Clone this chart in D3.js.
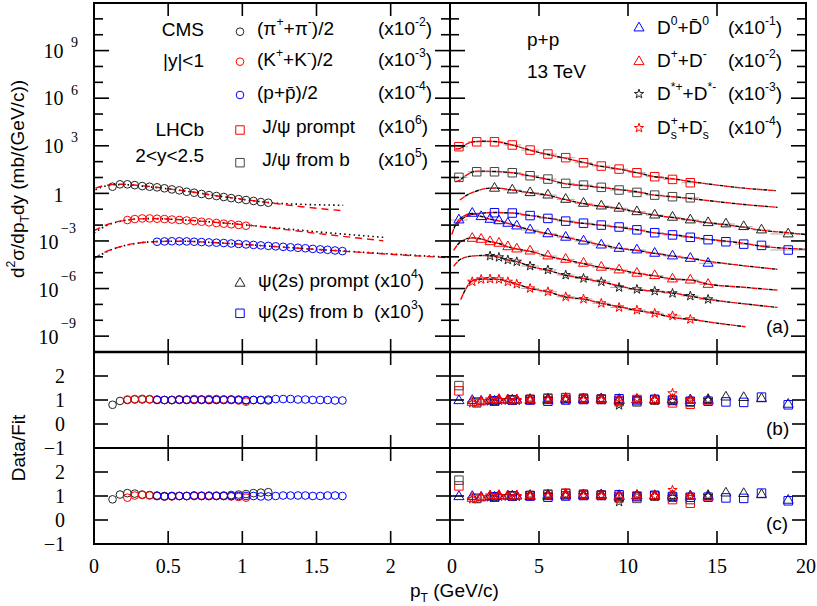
<!DOCTYPE html>
<html><head><meta charset="utf-8">
<script src="https://cdn.jsdelivr.net/npm/d3@7"></script>
<style>body{margin:0;background:#fff} text{white-space:pre}</style>
</head><body>
<script>
// ================= DATA (y values given as log10 of the scaled cross section) =================
// ---- Left panel (CMS, |y|<1), pT in GeV/c ----
const pionPt   = [0.125,0.175,0.225,0.275,0.325,0.375,0.425,0.475,0.525,0.575,0.625,0.675,0.725,0.775,0.825,0.875,0.925,0.975,1.025,1.075,1.125,1.175];
const pionLogY = [0.42,0.57,0.57,0.52,0.46,0.42,0.38,0.32,0.25,0.19,0.10,0.04,-0.04,-0.11,-0.17,-0.23,-0.30,-0.36,-0.42,-0.48,-0.55,-0.59];
const pionRatioB = [0.80,0.96,1.00,1.02,1.02,1.02,1.01,1.00,1.00,1.00,1.01,1.02,1.00,1.00,1.01,1.02,1.00,1.00,0.98,1.00,1.00,0.98];
const pionRatioC = [0.86,1.06,1.12,1.10,1.06,1.04,1.02,1.00,1.00,1.00,1.00,1.02,1.00,1.00,1.00,1.02,1.04,1.06,1.08,1.12,1.14,1.16];

const kaonPt   = [0.225,0.275,0.325,0.375,0.425,0.475,0.525,0.575,0.625,0.675,0.725,0.775,0.825,0.875,0.925,0.975,1.025];
const kaonLogY = [-1.68,-1.62,-1.58,-1.58,-1.60,-1.62,-1.65,-1.68,-1.71,-1.75,-1.79,-1.83,-1.87,-1.91,-1.95,-1.99,-2.04];
const kaonRatioB = [1.02,1.04,1.05,1.04,1.02,1.00,1.00,1.02,1.02,1.04,1.02,1.04,1.04,1.02,1.02,0.98,0.93];
const kaonRatioC = [0.93,1.02,1.04,1.02,1.00,0.98,0.98,1.00,1.00,1.02,1.02,1.02,1.02,1.00,0.98,0.96,0.93];

const protonPt   = [0.425,0.475,0.525,0.575,0.625,0.675,0.725,0.775,0.825,0.875,0.925,0.975,1.025,1.075,1.125,1.175,1.225,1.275,1.325,1.375,1.425,1.475,1.525,1.575,1.625,1.675];
const protonLogY = [-3.05,-3.03,-3.02,-3.02,-3.03,-3.05,-3.07,-3.09,-3.11,-3.13,-3.16,-3.19,-3.22,-3.25,-3.28,-3.31,-3.34,-3.37,-3.40,-3.43,-3.46,-3.50,-3.53,-3.56,-3.60,-3.64];
const protonRatioB = [1.00,1.00,1.00,1.02,1.00,1.00,1.02,1.00,1.00,1.00,1.02,1.02,1.00,1.00,1.00,1.02,1.04,1.04,1.04,1.02,1.02,1.00,1.00,1.00,0.98,0.98];
const protonRatioC = [1.00,0.98,1.00,1.00,1.00,1.00,1.00,1.00,1.00,1.00,1.00,1.00,1.00,1.00,0.98,0.98,1.00,1.02,1.02,1.02,1.02,1.00,1.00,1.02,1.02,1.00];

// fit curves, left panel: [pT, log10 y]
const fitPionRed    = [[0.01,0.33],[0.05,0.45],[0.1,0.53],[0.15,0.57],[0.2,0.57],[0.3,0.50],[0.4,0.41],[0.5,0.29],[0.6,0.17],[0.7,0.04],[0.8,-0.12],[0.9,-0.24],[1.0,-0.37],[1.1,-0.49],[1.2,-0.61],[1.4,-0.84],[1.68,-1.10]];
const fitPionBlack  = [[0.01,0.22],[0.05,0.40],[0.1,0.50],[0.15,0.55],[0.2,0.55],[0.3,0.48],[0.4,0.39],[0.5,0.28],[0.6,0.16],[0.7,0.03],[0.8,-0.12],[0.9,-0.25],[1.0,-0.38],[1.1,-0.50],[1.2,-0.60],[1.4,-0.69],[1.68,-0.75]];
const fitKaonRed    = [[0.0,-2.35],[0.05,-2.12],[0.1,-1.93],[0.15,-1.80],[0.2,-1.71],[0.25,-1.65],[0.3,-1.61],[0.4,-1.59],[0.5,-1.62],[0.6,-1.67],[0.7,-1.74],[0.8,-1.81],[0.9,-1.89],[1.0,-1.97],[1.2,-2.18],[1.5,-2.52],[1.95,-2.99]];
const fitKaonBlack  = [[0.0,-2.50],[0.05,-2.20],[0.1,-1.97],[0.15,-1.82],[0.2,-1.72],[0.25,-1.65],[0.3,-1.61],[0.4,-1.59],[0.5,-1.62],[0.6,-1.67],[0.7,-1.74],[0.8,-1.81],[0.9,-1.89],[1.0,-1.97],[1.2,-2.15],[1.5,-2.42],[1.95,-2.77]];
const fitProtonRed  = [[0.0,-4.10],[0.05,-3.82],[0.1,-3.60],[0.2,-3.30],[0.3,-3.13],[0.4,-3.05],[0.5,-3.02],[0.6,-3.02],[0.8,-3.10],[1.0,-3.21],[1.2,-3.34],[1.4,-3.47],[1.675,-3.64],[2.0,-3.84],[2.4,-4.06]];
const fitProtonBlack= [[0.0,-4.16],[0.05,-3.86],[0.1,-3.62],[0.2,-3.31],[0.3,-3.13],[0.4,-3.05],[0.5,-3.02],[0.6,-3.02],[0.8,-3.10],[1.0,-3.21],[1.2,-3.34],[1.4,-3.47],[1.675,-3.63],[2.0,-3.82],[2.4,-4.03]];

// ---- Right panel (LHCb, 2<y<2.5 and D mesons), pT in GeV/c ----
const jpsiPt      = [0.5,1.5,2.5,3.5,4.5,5.5,6.5,7.5,8.5,9.5,10.5,11.5,12.5,13.5];
const jpsiHalfBin = [0.5,0.5,0.5,0.5,0.5,0.5,0.5,0.5,0.5,0.5,0.5,0.5,0.5,0.5];
const jpsiPromptLogY = [2.94,3.25,3.25,3.05,2.73,2.48,2.25,1.93,1.72,1.53,1.30,1.05,0.88,0.67];
const jpsiFromBLogY  = [1.01,1.36,1.36,1.30,1.11,0.90,0.63,0.52,0.38,0.21,0.06,-0.11,-0.21,-0.28];
const jpsiPromptRatioB = [1.38,0.92,0.95,1.00,1.03,1.08,1.10,1.05,1.05,0.98,1.02,1.00,0.88,0.82];
const jpsiPromptRatioC = [1.42,0.90,0.95,1.00,1.02,1.08,1.12,1.05,1.05,0.98,1.00,1.00,0.85,0.70];
const jpsiFromBRatioB  = [1.60,0.88,0.95,1.00,1.02,1.05,1.08,1.08,1.03,0.93,0.92,1.00,1.00,0.90];
const jpsiFromBRatioC  = [1.66,0.90,0.95,1.00,1.02,1.05,1.10,1.08,1.03,0.92,0.90,1.00,0.95,0.85];

const psiPt      = [2.5,3.5,4.5,5.5,6.5,7.5,8.5,9.5,10.5,11.5,12.5,13.5,14.5,15.5,16.5,17.5,19];
const psiHalfBin = [0.5,0.5,0.5,0.5,0.5,0.5,0.5,0.5,0.5,0.5,0.5,0.5,0.5,0.5,0.5,0.5,1.0];
const psiPromptLogY = [0.32,0.21,0.04,-0.11,-0.38,-0.63,-0.80,-0.94,-1.16,-1.37,-1.51,-1.68,-1.85,-1.93,-2.10,-2.31,-2.56];
const psiFromBLogY  = [-1.22,-1.24,-1.40,-1.58,-1.75,-1.88,-2.00,-2.12,-2.30,-2.48,-2.62,-2.77,-2.92,-3.05,-3.20,-3.28,-3.57];
const psiPromptRatioB = [0.95,1.00,1.00,1.02,1.04,1.05,1.05,1.02,1.02,1.00,1.02,1.00,1.02,1.12,1.10,1.05,0.82];
const psiPromptRatioC = [0.95,1.00,1.00,1.02,1.04,1.05,1.05,1.02,1.02,1.00,1.02,1.00,1.02,1.12,1.10,1.05,0.82];
const psiFromBRatioB  = [0.97,1.00,1.00,0.95,1.00,1.02,1.02,1.05,0.97,1.03,0.98,0.95,0.95,0.92,0.90,1.12,0.80];
const psiFromBRatioC  = [0.97,1.00,1.00,0.95,1.00,1.02,1.02,1.05,0.97,1.03,0.98,0.95,0.95,0.92,0.90,1.12,0.80];

const d0Pt      = [0.5,1.25,1.75,2.25,2.75,3.25,3.75,4.5,5.5,6.5,7.5,8.5,9.5,10.5,11.5,12.5,13.5,14.5];
const d0HalfBin = [0.5,0.25,0.25,0.25,0.25,0.25,0.25,0.5,0.5,0.5,0.5,0.5,0.5,0.5,0.5,0.5,0.5,0.5];
const d0LogY    = [-1.68,-1.26,-1.47,-1.64,-1.73,-1.89,-2.06,-2.31,-2.55,-2.77,-3.01,-3.26,-3.47,-3.57,-3.78,-3.95,-4.10,-4.41];
const d0RatioB  = [0.97,0.98,0.95,0.98,1.00,1.00,1.00,0.97,0.97,1.00,1.00,1.03,0.98,1.00,1.00,1.00,0.98,0.97];
const d0RatioC  = [0.97,0.98,0.95,0.98,1.00,1.00,1.00,0.97,0.97,1.00,1.00,1.03,0.98,1.00,1.00,1.00,0.98,0.97];

const dpPt      = [1.25,1.75,2.25,2.75,3.25,3.75,4.5,5.5,6.5,7.5,8.5,9.5,10.5,11.5,12.5,13.5,14.5];
const dpHalfBin = [0.25,0.25,0.25,0.25,0.25,0.25,0.5,0.5,0.5,0.5,0.5,0.5,0.5,0.5,0.5,0.5,0.5];
const dpLogY    = [-2.84,-2.90,-3.05,-3.15,-3.37,-3.51,-3.64,-3.95,-4.16,-4.41,-4.66,-4.83,-5.04,-5.19,-5.40,-5.47,-5.74];
const dpRatioB  = [0.90,0.92,1.00,1.02,1.00,1.00,1.02,1.05,1.07,1.05,1.02,0.97,1.00,1.02,1.00,0.98,0.95];
const dpRatioC  = [0.90,0.92,1.00,1.02,1.00,1.00,1.02,1.05,1.07,1.05,1.02,0.97,1.00,1.02,1.00,0.98,0.95];

const dstPt      = [2.25,2.75,3.25,3.75,4.5,5.5,6.5,7.5,8.5,9.5,10.5,11.5,12.5,13.5,14.5];
const dstHalfBin = [0.25,0.25,0.25,0.25,0.5,0.5,0.5,0.5,0.5,0.5,0.5,0.5,0.5,0.5,0.5];
const dstLogY    = [-3.95,-4.03,-4.20,-4.31,-4.58,-4.83,-5.15,-5.36,-5.57,-5.93,-6.05,-6.16,-6.30,-6.47,-6.68];
const dstRatioB  = [0.95,0.98,1.00,0.97,1.05,1.05,1.02,1.02,1.02,0.78,1.05,1.00,0.95,1.02,1.00];
const dstRatioC  = [0.95,0.98,1.00,0.97,1.05,1.05,1.02,1.02,1.02,0.75,1.05,1.00,0.95,1.02,1.00];

const dsPt      = [1.25,1.75,2.25,2.75,3.25,3.75,4.5,5.5,6.5,7.5,8.5,9.5,10.5,11.5,12.5,13.5];
const dsHalfBin = [0.25,0.25,0.25,0.25,0.25,0.25,0.5,0.5,0.5,0.5,0.5,0.5,0.5,0.5,0.5,0.5];
const dsLogY    = [-5.57,-5.42,-5.40,-5.42,-5.57,-5.72,-5.99,-6.20,-6.52,-6.66,-6.93,-7.19,-7.36,-7.56,-7.72,-7.94];
const dsRatioB  = [0.87,0.95,1.02,1.00,0.98,1.00,1.00,1.00,1.05,1.00,1.00,0.90,1.05,1.00,1.28,1.00];
const dsRatioC  = [0.87,0.95,1.02,1.00,0.98,1.00,1.00,1.00,1.05,1.00,1.00,0.88,1.05,1.00,1.25,1.00];

// fit curves, right panel: [pT, log10 y]
const fitJpsiPrompt = [[0.3,2.80],[0.5,2.81],[1,3.15],[1.5,3.27],[2,3.29],[2.5,3.27],[3.5,3.05],[4.5,2.72],[5.5,2.45],[6.5,2.21],[7.5,1.95],[8.5,1.70],[9.5,1.53],[10.5,1.30],[11.5,1.05],[12.5,0.92],[13.5,0.75],[15,0.52],[16.5,0.33],[18.3,0.17]];
const fitJpsiFromB  = [[0.3,0.73],[0.5,0.81],[1,1.20],[1.5,1.40],[2,1.40],[2.5,1.38],[3.5,1.30],[4.5,1.10],[5.5,0.88],[6.5,0.60],[7.5,0.49],[8.5,0.37],[9.5,0.24],[10.5,0.10],[11.5,-0.11],[12.5,-0.21],[13.5,-0.33],[15,-0.52],[16.5,-0.70],[18.4,-0.88]];
const fitPsiPrompt  = [[0.55,-0.42],[1,-0.08],[1.5,0.15],[2,0.30],[2.5,0.34],[3.5,0.21],[4.5,0.04],[5.5,-0.12],[6.5,-0.40],[7.5,-0.65],[8.5,-0.82],[9.5,-0.95],[10.5,-1.17],[11.5,-1.37],[12.5,-1.52],[13.5,-1.68],[14.5,-1.86],[15.5,-1.98],[16.5,-2.14],[17.5,-2.33],[19,-2.48],[20,-2.60]];
const fitPsiFromB   = [[0.4,-1.95],[0.8,-1.52],[1.5,-1.28],[2.5,-1.21],[3.5,-1.24],[4.5,-1.40],[5.5,-1.56],[6.5,-1.75],[7.5,-1.89],[8.5,-2.01],[9.5,-2.14],[10.5,-2.29],[11.5,-2.49],[12.5,-2.61],[13.5,-2.75],[14.5,-2.90],[15.5,-3.01],[16.5,-3.15],[17.5,-3.33],[19,-3.47],[20,-3.52]];
const fitD0         = [[0.1,-2.60],[0.3,-2.00],[0.5,-1.67],[0.8,-1.42],[1.25,-1.27],[1.75,-1.45],[2.25,-1.63],[2.75,-1.73],[3.25,-1.89],[3.75,-2.06],[4.5,-2.30],[5.5,-2.54],[6.5,-2.77],[7.5,-3.01],[8.5,-3.25],[9.5,-3.46],[10.5,-3.60],[11.5,-3.78],[12.5,-3.95],[13.5,-4.10],[14.5,-4.28],[16.5,-4.56],[18.4,-4.79]];
const fitDp         = [[0.2,-3.60],[0.6,-3.05],[1.25,-2.80],[1.75,-2.87],[2.25,-3.05],[2.75,-3.16],[3.25,-3.37],[3.75,-3.51],[4.5,-3.65],[5.5,-3.97],[6.5,-4.19],[7.5,-4.43],[8.5,-4.67],[9.5,-4.82],[10.5,-5.04],[11.5,-5.20],[12.5,-5.40],[13.5,-5.46],[14.5,-5.72],[16.5,-5.92],[18.4,-6.10]];
const fitDst        = [[0.2,-4.60],[0.6,-4.15],[1.25,-3.95],[1.75,-3.92],[2.25,-3.93],[2.75,-4.02],[3.25,-4.20],[3.75,-4.30],[4.5,-4.60],[5.5,-4.85],[6.5,-5.16],[7.5,-5.37],[8.5,-5.58],[9.5,-5.83],[10.5,-6.07],[11.5,-6.16],[12.5,-6.28],[13.5,-6.48],[14.5,-6.68],[16.5,-6.96],[18.4,-7.19]];
const fitDs         = [[0.6,-6.70],[0.9,-6.00],[1.25,-5.51],[1.75,-5.40],[2.25,-5.41],[2.75,-5.42],[3.25,-5.56],[3.75,-5.72],[4.5,-5.99],[5.5,-6.20],[6.5,-6.54],[7.5,-6.66],[8.5,-6.93],[9.5,-7.15],[10.5,-7.38],[11.5,-7.56],[12.5,-7.82],[13.5,-7.94],[15,-8.18],[16.6,-8.41]];

// axis tick labels
const leftXTicks  = [0, 0.5, 1, 1.5, 2];
const leftXLabels = ["0", "0.5", "1", "1.5", "2"];
const rightXTicks = [0, 5, 10, 15, 20];
const rightXLabels= ["0", "5", "10", "15", "20"];
const logLabelExps = [9, 6, 3, 0, -3, -6, -9];
const ratioTicks   = [0, 1, 2];
const ratioLabels  = ["2", "1", "0", "\u22121"];
const ratioLabelValues = [2, 1, 0, -1];

// ================= DRAWING =================
const W = 817, H = 606;
const SANS = "'Liberation Sans', Arial, Helvetica, sans-serif";
const SERIF = "'Liberation Serif', 'Times New Roman', serif";
const RED = "#ff0000", BLUE = "#0000ff", BLACK = "#222222";

const svg = d3.select("body").append("svg").attr("width", W).attr("height", H)
  .style("background", "#fff");

const xL = d3.scaleLinear().domain([0, 2.4]).range([94, 450]);
const xR = d3.scaleLinear().domain([0, 20]).range([450, 806]);
const yA = d3.scaleLog().domain([1e-10, 1e12]).range([352, 3]);
const yB = d3.scaleLinear().domain([-1, 3]).range([448, 352]);
const yC = d3.scaleLinear().domain([-1, 3]).range([544, 448]);

const panels = {
  La: {x: xL, y: yA}, Ra: {x: xR, y: yA},
  Lb: {x: xL, y: yB}, Rb: {x: xR, y: yB},
  Lc: {x: xL, y: yC}, Rc: {x: xR, y: yC}
};

const defs = svg.append("defs");
Object.entries(panels).forEach(([k, p]) => {
  const [x0, x1] = p.x.range(); const [yb, yt] = p.y.range();
  defs.append("clipPath").attr("id", "clip" + k).append("rect")
    .attr("x", x0).attr("y", yt).attr("width", x1 - x0).attr("height", yb - yt);
});

const symGen = {
  circle: d3.symbol(d3.symbolCircle, 46),
  square: d3.symbol(d3.symbolSquare, 72),
  triangle: d3.symbol(d3.symbolTriangle, 44),
  star: d3.symbol(d3.symbolStar, 27)
};
function marker(g, x, y, type, color) {
  g.append("path").attr("d", symGen[type]())
    .attr("transform", `translate(${x},${y})`)
    .attr("fill", "none").attr("stroke", color).attr("stroke-width", 1);
}

// rich text: ^{..} superscript, _{..} subscript, @ stacks the next script over previous one
function rich(parent, x, y, str, fs, anchor, family) {
  const t = parent.append("text").attr("x", x).attr("y", y)
    .attr("font-size", fs).attr("font-family", family || SANS)
    .attr("text-anchor", anchor || "start").attr("fill", "#000");
  const segs = [];
  let i = 0;
  while (i < str.length) {
    const c = str[i];
    if ((c === "^" || c === "_") && str[i + 1] === "{") {
      const j = str.indexOf("}", i);
      segs.push({t: str.slice(i + 2, j), s: c === "^" ? 1 : -1});
      i = j + 1;
    } else if (c === "@") { segs.push({stack: true}); i++; }
    else {
      let j = i;
      while (j < str.length && !((str[j] === "^" || str[j] === "_") && str[j + 1] === "{") && str[j] !== "@") j++;
      segs.push({t: str.slice(i, j), s: 0});
      i = j;
    }
  }
  let cur = 0, stackNext = false, last = null;
  segs.forEach(sg => {
    if (sg.stack) { stackNext = true; return; }
    const target = sg.s === 1 ? -0.45 * fs : sg.s === -1 ? 0.28 * fs : 0;
    const ts = t.append("tspan").text(sg.t).attr("dy", target - cur)
      .attr("font-size", sg.s ? 0.64 * fs : fs);
    if (stackNext && last) { ts.attr("dx", -last.node().getComputedTextLength()); stackNext = false; }
    cur = target; last = ts;
  });
  return t;
}

const lineL = d3.line().x(d => xL(d[0])).y(d => yA(Math.pow(10, d[1]))).curve(d3.curveMonotoneX);
const lineR = d3.line().x(d => xR(d[0])).y(d => yA(Math.pow(10, d[1]))).curve(d3.curveMonotoneX);

// ---------- Left top panel ----------
const gLa = svg.append("g").attr("clip-path", "url(#clipLa)");
[[fitPionRed, fitPionBlack], [fitKaonRed, fitKaonBlack], [fitProtonRed, fitProtonBlack]].forEach(([r, b]) => {
  gLa.append("path").attr("d", lineL(b)).attr("fill", "none").attr("stroke", "#000")
    .attr("stroke-width", 1.6).attr("stroke-dasharray", "1.5,3.2");
  gLa.append("path").attr("d", lineL(r)).attr("fill", "none").attr("stroke", RED)
    .attr("stroke-width", 1.4).attr("stroke-dasharray", "7,5");
});
const leftSeries = [
  {pt: pionPt, ly: pionLogY, rb: pionRatioB, rc: pionRatioC, color: BLACK},
  {pt: kaonPt, ly: kaonLogY, rb: kaonRatioB, rc: kaonRatioC, color: RED},
  {pt: protonPt, ly: protonLogY, rb: protonRatioB, rc: protonRatioC, color: BLUE}
];
leftSeries.forEach(s => s.pt.forEach((p, i) => marker(gLa, xL(p), yA(Math.pow(10, s.ly[i])), "circle", s.color)));

// ---------- Right top panel ----------
const gRa = svg.append("g").attr("clip-path", "url(#clipRa)");
const rightSeries = [
  {pt: jpsiPt, half: jpsiHalfBin, ly: jpsiPromptLogY, rb: jpsiPromptRatioB, rc: jpsiPromptRatioC, sym: "square", color: RED, fit: fitJpsiPrompt},
  {pt: jpsiPt, half: jpsiHalfBin, ly: jpsiFromBLogY, rb: jpsiFromBRatioB, rc: jpsiFromBRatioC, sym: "square", color: "#444", fit: fitJpsiFromB},
  {pt: psiPt, half: psiHalfBin, ly: psiPromptLogY, rb: psiPromptRatioB, rc: psiPromptRatioC, sym: "triangle", color: BLACK, fit: fitPsiPrompt},
  {pt: psiPt, half: psiHalfBin, ly: psiFromBLogY, rb: psiFromBRatioB, rc: psiFromBRatioC, sym: "square", color: BLUE, fit: fitPsiFromB},
  {pt: d0Pt, half: d0HalfBin, ly: d0LogY, rb: d0RatioB, rc: d0RatioC, sym: "triangle", color: BLUE, fit: fitD0},
  {pt: dpPt, half: dpHalfBin, ly: dpLogY, rb: dpRatioB, rc: dpRatioC, sym: "triangle", color: RED, fit: fitDp},
  {pt: dstPt, half: dstHalfBin, ly: dstLogY, rb: dstRatioB, rc: dstRatioC, sym: "star", color: BLACK, fit: fitDst},
  {pt: dsPt, half: dsHalfBin, ly: dsLogY, rb: dsRatioB, rc: dsRatioC, sym: "star", color: RED, fit: fitDs}
];
rightSeries.forEach(s => {
  s.pt.forEach((p, i) => {
    const yy = yA(Math.pow(10, s.ly[i]));
    gRa.append("line").attr("x1", xR(p - s.half[i])).attr("x2", xR(p + s.half[i]))
      .attr("y1", yy).attr("y2", yy).attr("stroke", "#aaa").attr("stroke-width", 1);
  });
});
rightSeries.forEach(s => {
  gRa.append("path").attr("d", lineR(s.fit)).attr("fill", "none").attr("stroke", "#000")
    .attr("stroke-width", 1.4).attr("stroke-dasharray", "4,7").attr("stroke-dashoffset", -6.5);
  gRa.append("path").attr("d", lineR(s.fit)).attr("fill", "none").attr("stroke", RED)
    .attr("stroke-width", 1.4).attr("stroke-dasharray", "6,5");
});
rightSeries.forEach(s => s.pt.forEach((p, i) => marker(gRa, xR(p), yA(Math.pow(10, s.ly[i])), s.sym, s.color)));

// ---------- Ratio panels ----------
[["b", yB], ["c", yC]].forEach(([k, ys]) => {
  const gl = svg.append("g").attr("clip-path", `url(#clipL${k})`);
  leftSeries.forEach(s => s.pt.forEach((p, i) => marker(gl, xL(p), ys(k === "b" ? s.rb[i] : s.rc[i]), "circle", s.color)));
  const gr = svg.append("g").attr("clip-path", `url(#clipR${k})`);
  rightSeries.forEach(s => s.pt.forEach((p, i) => marker(gr, xR(p), ys(k === "b" ? s.rb[i] : s.rc[i]), s.sym, s.color)));
});

// ---------- Frames and ticks ----------
const ax = svg.append("g");
function tick(x1, y1, x2, y2, w) {
  ax.append("line").attr("x1", x1).attr("y1", y1).attr("x2", x2).attr("y2", y2)
    .attr("stroke", "#000").attr("stroke-width", w || 1.6);
}
// log y ticks
d3.range(-10, 13).forEach(e => {
  const y = yA(Math.pow(10, e));
  const len = (e % 3 === 0) ? 15 : 9;
  tick(94, y, 94 + len, y); tick(450, y, 450 - len, y);
  tick(450, y, 450 + len, y); tick(806, y, 806 - len, y);
});
// ratio y ticks
[yB, yC].forEach(ys => ratioTicks.forEach(v => {
  const y = ys(v);
  tick(94, y, 108, y); tick(450, y, 436, y); tick(450, y, 464, y); tick(806, y, 792, y);
}));
// x ticks for each row
[[3, 352], [352, 448], [448, 544]].forEach(([yt, yb]) => {
  leftXTicks.forEach(v => { const x = xL(v); tick(x, yt, x, yt + 13); tick(x, yb, x, yb - 13); });
  rightXTicks.forEach(v => { const x = xR(v); tick(x, yt, x, yt + 13); tick(x, yb, x, yb - 13); });
});
// frames
[[94, 450], [450, 806]].forEach(([x0, x1]) => {
  ax.append("rect").attr("x", x0).attr("y", 3).attr("width", x1 - x0).attr("height", 541)
    .attr("fill", "none").attr("stroke", "#000").attr("stroke-width", 2);
});
tick(94, 352, 806, 352, 2.6);
tick(94, 448, 806, 448, 2.2);

// ---------- Tick labels ----------
const tl = svg.append("g").attr("font-family", SERIF).attr("fill", "#000");
leftXTicks.forEach((v, i) => tl.append("text").attr("x", xL(v)).attr("y", 573).attr("font-size", 20)
  .attr("text-anchor", "middle").text(leftXLabels[i]));
rightXTicks.forEach((v, i) => tl.append("text").attr("x", xR(v) + (i === 0 ? 2 : 0)).attr("y", 573).attr("font-size", 20)
  .attr("text-anchor", "middle").text(rightXLabels[i]));
logLabelExps.forEach(e => {
  const y = yA(Math.pow(10, e));
  if (e === 0) {
    tl.append("text").attr("x", 63.5).attr("y", y + 9).attr("font-size", 20).attr("text-anchor", "end").text("1");
  } else if (e > 0) {
    tl.append("text").attr("x", 63.5).attr("y", y + 7).attr("font-size", 20).attr("text-anchor", "end").text("10");
    tl.append("text").attr("x", 71).attr("y", y - 3.5).attr("font-size", 14).text(String(e));
  } else {
    tl.append("text").attr("x", 58.5).attr("y", y + 8).attr("font-size", 20).attr("text-anchor", "end").text("10");
    tl.append("text").attr("x", 61).attr("y", y - 8).attr("font-size", 14).text("\u2212" + String(-e));
  }
});
[yB, yC].forEach(ys => ratioLabelValues.forEach((v, i) => {
  tl.append("text").attr("x", 65).attr("y", ys(v) + 6.5).attr("font-size", 20)
    .attr("text-anchor", "end").text(ratioLabels[i]);
}));

// ---------- Axis titles ----------
const tg = svg.append("g");
rich(tg, 410, 597, "p_{T} (GeV/c)", 19, "start");
rich(tg.append("g").attr("transform", "translate(24,179) rotate(-90)"), 0, 0, "d^{2}\u03c3/dp_{T}dy (mb/(GeV/c))", 19, "middle");
rich(tg.append("g").attr("transform", "translate(25,448) rotate(-90)"), 0, 0, "Data/Fit", 19, "middle");

// ---------- Legends ----------
const lg = svg.append("g");
rich(lg, 204, 35.5, "CMS", 19, "end");
rich(lg, 204, 67, "|y|<1", 19, "end");
rich(lg, 204, 136, "LHCb", 19, "end");
rich(lg, 204, 161.5, "2<y<2.5", 19, "end");

const leftLegend = [
  {y: 31.7, sym: "circle", color: BLACK, label: "(\u03c0^{+}+\u03c0^{-})/2", mult: "(x10^{-2})", base: 34.5},
  {y: 61.7, sym: "circle", color: RED, label: "(K^{+}+K^{-})/2", mult: "(x10^{-3})", base: 66},
  {y: 95, sym: "circle", color: BLUE, label: "(p+p\u0304)/2", mult: "(x10^{-4})", base: 99},
  {y: 130, sym: "square", color: RED, label: " J/\u03c8 prompt", mult: "(x10^{6})", base: 133},
  {y: 162.7, sym: "square", color: "#444", label: " J/\u03c8 from b", mult: "(x10^{5})", base: 166}
];
leftLegend.forEach(r => {
  marker(lg, 240, r.y, r.sym, r.color);
  rich(lg, 257, r.base, r.label, 19);
  rich(lg, 378, r.base, r.mult, 19);
});
marker(lg, 240, 283.3, "triangle", BLACK);
rich(lg, 258, 287, "\u03c8(2s) prompt (x10^{4})", 19);
marker(lg, 240, 313.3, "square", BLUE);
rich(lg, 258, 317.5, "\u03c8(2s) from b  (x10^{3})", 19);

rich(lg, 527, 46, "p+p", 19);
rich(lg, 527, 78, "13 TeV", 19);
const rightLegend = [
  {y: 28, sym: "triangle", color: BLUE, label: "D^{0}+D\u0304^{0}", mult: "(x10^{-1})", base: 33.5},
  {y: 61.7, sym: "triangle", color: RED, label: "D^{+}+D^{-}", mult: "(x10^{-2})", base: 66.5},
  {y: 94, sym: "star", color: BLACK, label: "D^{*+}+D^{*-}", mult: "(x10^{-3})", base: 99.5},
  {y: 128, sym: "star", color: RED, label: "D_{s}@^{+}+D_{s}@^{-}", mult: "(x10^{-4})", base: 133.5}
];
rightLegend.forEach(r => {
  marker(lg, 639, r.y, r.sym, r.color);
  rich(lg, 657, r.base, r.label, 19);
  rich(lg, 728, r.base, r.mult, 19);
});
rich(lg, 766, 333, "(a)", 19);
rich(lg, 766, 435, "(b)", 19);
rich(lg, 766, 530, "(c)", 19);
</script>
</body></html>
